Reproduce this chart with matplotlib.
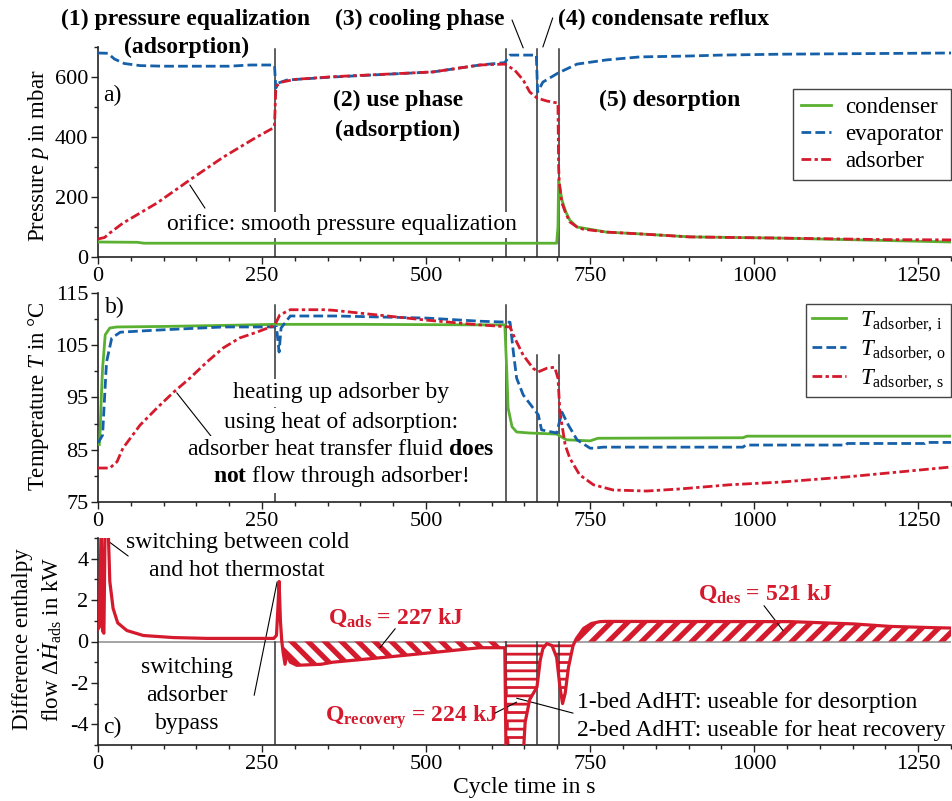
import matplotlib
matplotlib.use("Agg")
import numpy as np
import matplotlib.pyplot as plt
from matplotlib.ticker import MultipleLocator

plt.rcParams['font.family'] = ['Liberation Serif', 'DejaVu Serif']
plt.rcParams['font.size'] = 16
plt.rcParams['axes.unicode_minus'] = False
plt.rcParams['mathtext.fontset'] = 'custom'
plt.rcParams['mathtext.rm'] = 'Liberation Serif'
plt.rcParams['mathtext.it'] = 'Liberation Serif:italic'
plt.rcParams['mathtext.bf'] = 'Liberation Serif:bold'
plt.rcParams['mathtext.sf'] = 'Liberation Serif'

# ---------------- data ----------------
# (a) pressures in mbar
t_cond = [0, 60, 70, 699, 701, 702, 707, 713, 719, 730, 775, 826, 902, 1039, 1200, 1300]
p_cond = [50, 49, 46, 46, 100, 257, 190, 150, 123, 100, 83, 77, 67, 63, 55, 50]

t_evap = [0, 15, 25, 40, 64, 100, 200, 232, 267, 269, 271, 275, 288, 358, 511, 582,
          620, 628, 668, 670, 678, 701, 730, 775, 826, 902, 948, 1039, 1300]
p_evap = [680, 679, 660, 645, 638, 636, 636, 640, 640, 638, 563, 580, 590, 600, 617, 640,
          648, 673, 673, 550, 583, 613, 643, 657, 667, 670, 673, 676, 680]

t_adsp = [0, 10, 18, 38, 90, 140, 191, 242, 267, 269, 271, 273, 280, 300, 358, 511, 582,
          620, 635, 648, 658, 669, 684, 701, 702, 703, 707, 713, 719, 730, 739, 775, 826,
          902, 1039, 1200, 1300]
p_adsp = [60, 65, 80, 113, 180, 257, 333, 400, 430, 440, 560, 572, 583, 592, 601, 617, 640,
          643, 623, 590, 550, 530, 520, 513, 300, 247, 180, 145, 117, 100, 93, 83, 77,
          67, 63, 58, 57]

# (b) temperatures in degC
t_Ti = [2, 3, 5, 7, 11, 18, 29, 100, 191, 270, 400, 582, 620, 623, 625, 631, 638, 658,
        699, 714, 750, 762, 983, 989, 1300]
T_i = [86, 87.8, 95, 100.6, 107, 108.3, 108.5, 108.6, 108.8, 109, 109, 108.9, 108.9, 100,
       93, 89.4, 88.4, 88.2, 88, 86.9, 86.7, 87.2, 87.3, 87.6, 87.6]

t_To = [0, 7, 10, 13, 21, 34, 90, 191, 265, 272, 276, 279, 293, 364, 501, 582, 628, 633,
        638, 648, 663, 671, 676, 699, 707, 717, 730, 750, 755, 770, 983, 987, 1140, 1142,
        1260, 1262, 1300]
T_o = [86.3, 87.8, 95, 101.8, 106.4, 107.5, 107.9, 108.5, 108.5, 108.5, 103.7, 108.3,
       110.6, 110.6, 110.2, 109.6, 109.4, 103.7, 98.7, 95.5, 93, 91.7, 88.8, 88.2, 92.2,
       89.7, 86.9, 85.3, 85.3, 85.5, 85.5, 85.9, 85.9, 86.2, 86.2, 86.4, 86.4]

t_Ts = [0, 18, 29, 38, 64, 90, 115, 140, 166, 191, 216, 242, 267, 272, 277, 293, 344, 358,
        501, 582, 628, 635, 648, 663, 671, 684, 696, 701, 704, 712, 719, 734, 755, 785,
        836, 887, 963, 1039, 1141, 1242, 1300]
T_s = [81.5, 81.5, 82.7, 85.3, 89.7, 93, 96, 98.7, 101.8, 104.5, 106.4, 107.5, 108.7,
       109.5, 110.8, 111.8, 111.8, 111.7, 109.8, 108.9, 108.5, 106.4, 103.1, 100.6, 99.9,
       100.6, 100.8, 98.7, 92.2, 85.9, 83.4, 80.2, 78.3, 77.3, 77.1, 77.5, 78.3, 78.8,
       79.8, 81, 81.7]

# (c) difference enthalpy flow in kW
t_dH = [0, 2, 5, 7, 9, 11, 15, 18, 23, 30, 44, 69, 115, 166, 200, 268, 272, 274, 276,
        278, 280, 282, 285, 288, 293, 303, 340, 358, 435, 511, 582, 620, 622, 628, 645,
        649, 651, 658, 669, 674, 678, 684, 692, 699, 704, 708, 712, 717, 724, 729, 740,
        752, 765, 773, 1055, 1151, 1207, 1272, 1300]
dH = [0.6, 0.7, 6, 0.5, 0.4, 6, 6, 2.9, 1.6, 0.9, 0.53, 0.29, 0.19, 0.15, 0.15, 0.15,
      0.3, 1.5, 2.9, 1.0, 0.05, -0.5, -1.1, -0.6, -1.0, -1.15, -1.1, -1.0, -0.77, -0.53,
      -0.3, -0.3, -6, -6, -6, -5, -3.9, -2.8, -2.2, -0.9, -0.35, -0.1, -0.2, -0.77, -2.2,
      -3.0, -2.5, -1.25, -0.2, 0.14, 0.63, 0.87, 0.96, 0.97, 0.96, 0.85, 0.73, 0.67, 0.65]

phase_bounds = [270, 622, 669, 702]
x_ticks = [0, 250, 500, 750, 1000, 1250]

GREEN = '#5ab031'
BLUE = '#1660a9'
RED = '#d41a2c'
VLINE = '#333333'

# ---------------- figure ----------------
W, H = 953, 801
fig = plt.figure(figsize=(W / 100, H / 100), dpi=100)
left, width = 98 / W, 853 / W
ax_a = fig.add_axes([left, 1 - 257 / H, width, 210 / H])
ax_b = fig.add_axes([left, 1 - 502 / H, width, 209 / H])
ax_c = fig.add_axes([left, 1 - 745 / H, width, 207 / H])

for ax in (ax_a, ax_b, ax_c):
    for s in ('top', 'right'):
        ax.spines[s].set_visible(False)
    for s in ('left', 'bottom'):
        ax.spines[s].set_linewidth(1.2)
        ax.spines[s].set_color('#222222')
    ax.set_xlim(0, 1300)
    ax.set_xticks(x_ticks)
    ax.xaxis.set_minor_locator(MultipleLocator(50))
    ax.tick_params(which='major', direction='out', length=5, width=1, pad=2,
                   labelsize=16, color='#222222')
    ax.tick_params(which='minor', direction='out', length=3, width=1, color='#222222')

dash_b = (0, (3.5, 1.5))
dash_r = (0, (3.5, 1.2, 1.2, 1.2))
lw = 2.0


def place_ylabel(ax, text, ycen, **kw):
    ax.set_ylabel(text, fontsize=16.5, **kw)
    ax.yaxis.label.set_horizontalalignment('center')
    ax.yaxis.label.set_verticalalignment('center')
    ax.yaxis.set_label_coords(-0.070, ycen)


# ---- (a) pressure ----
ax_a.plot(t_cond, p_cond, color=GREEN, lw=lw, label='condenser', zorder=3)
ax_a.plot(t_evap, p_evap, color=BLUE, lw=lw, ls=dash_b, label='evaporator', zorder=4)
ax_a.plot(t_adsp, p_adsp, color=RED, lw=lw, ls=dash_r, label='adsorber', zorder=5)
ax_a.set_ylim(0, 700)
ax_a.yaxis.set_major_locator(MultipleLocator(200))
ax_a.yaxis.set_minor_locator(MultipleLocator(100))
for tb in phase_bounds:
    ax_a.axvline(tb, ymin=0, ymax=0.99, color=VLINE, lw=1.1, zorder=2)
place_ylabel(ax_a, r'Pressure $p$ in mbar', 0.48)
ax_a.legend(loc='upper right', bbox_to_anchor=(1.0, 0.80), fontsize=16.5, frameon=True,
            fancybox=False, edgecolor='#444444', framealpha=1, borderaxespad=0,
            handlelength=1.3, handletextpad=0.6, labelspacing=0.25, borderpad=0.35)

ax_a.text(8, 540, 'a)', fontsize=17, ha='left', va='center')
ax_a.text(134, 793, '(1) pressure equalization', fontsize=17, fontweight='bold',
          ha='center', va='center')
ax_a.text(135, 697, '(adsorption)', fontsize=17, fontweight='bold', ha='center', va='center')
ax_a.text(491, 793, '(3) cooling phase', fontsize=17, fontweight='bold', ha='center', va='center')
ax_a.text(862, 793, '(4) condensate reflux', fontsize=17, fontweight='bold',
          ha='center', va='center')
ax_a.text(457, 523, '(2) use phase', fontsize=17, fontweight='bold', ha='center', va='center')
ax_a.text(457, 423, '(adsorption)', fontsize=17, fontweight='bold', ha='center', va='center')
ax_a.text(872, 523, '(5) desorption', fontsize=17, fontweight='bold', ha='center', va='center')
ax_a.text(372, 107, 'orifice: smooth pressure equalization', fontsize=17, ha='center',
          va='center', zorder=6,
          bbox=dict(facecolor='white', edgecolor='none', pad=1.5))
leader = dict(arrowstyle='-', color='black', lw=0.8, shrinkA=0, shrinkB=0)
ax_a.annotate('', xy=(140, 240), xytext=(163, 163), arrowprops=leader, annotation_clip=False)
ax_a.annotate('', xy=(648, 697), xytext=(631, 790), arrowprops=leader, annotation_clip=False)
ax_a.annotate('', xy=(678, 700), xytext=(693, 797), arrowprops=leader, annotation_clip=False)

# ---- (b) temperature ----
ax_b.plot(t_Ti, T_i, color=GREEN, lw=lw, label=r'$T_{\mathrm{adsorber,\,i}}$', zorder=3)
ax_b.plot(t_To, T_o, color=BLUE, lw=lw, ls=dash_b, label=r'$T_{\mathrm{adsorber,\,o}}$', zorder=4)
ax_b.plot(t_Ts, T_s, color=RED, lw=lw, ls=dash_r, label=r'$T_{\mathrm{adsorber,\,s}}$', zorder=5)
ax_b.set_ylim(75, 115)
ax_b.set_yticks([75, 85, 95, 105, 115])
ax_b.yaxis.set_minor_locator(MultipleLocator(5))
for tb in phase_bounds:
    top = 0.943 if tb in (270, 622) else 0.703
    ax_b.axvline(tb, ymin=0, ymax=top, color=VLINE, lw=1.1, zorder=2)
place_ylabel(ax_b, r'Temperature $T$ in °C', 0.507)
ax_b.legend(loc='upper right', bbox_to_anchor=(1.0, 0.947), fontsize=16.5, frameon=True,
            fancybox=False, edgecolor='#444444', framealpha=1, borderaxespad=0,
            handlelength=1.5, handletextpad=0.6, labelspacing=0.2, borderpad=0.25)
ax_b.text(10.7, 112.3, 'b)', fontsize=17, ha='left', va='center')
heat_lines = ['heating up adsorber by',
              'using heat of adsorption:',
              r'adsorber heat transfer fluid $\mathbf{does}$',
              r'$\mathbf{not}$ flow through adsorber!']
heat_y = [95.9, 90.3, 85.0, 79.8]
for s, yv in zip(heat_lines, heat_y):
    ax_b.text(370, yv, s, fontsize=17, ha='center', va='center', zorder=6,
              bbox=dict(facecolor='white', edgecolor='none', pad=2.5))
ax_b.annotate('', xy=(120, 95.9), xytext=(183, 85.9), arrowprops=leader, annotation_clip=False)

# ---- (c) enthalpy flow ----
t_arr = np.array(t_dH, dtype=float)
h_arr = np.array(dH, dtype=float)
ax_c.axhline(0, color='#8c8c8c', lw=1.1, zorder=1)
hatch_regions = [
    ((t_arr >= 280) & (t_arr <= 622), '\\\\', 3.8),
    ((t_arr >= 622) & (t_arr <= 729), '--', 2.0),
    ((t_arr >= 724), '//', 3.8),
]
for mask, hatch, hlw in hatch_regions:
    plt.rcParams['hatch.linewidth'] = hlw
    coll = ax_c.fill_between(t_arr, h_arr, 0, where=mask, interpolate=True,
                             facecolor='none', edgecolor=RED, linewidth=0,
                             hatch=hatch, zorder=2)
    if hasattr(coll, 'set_hatch_linewidth'):
        coll.set_hatch_linewidth(hlw)
ax_c.plot(t_arr, h_arr, color=RED, lw=2.3, zorder=4)
ax_c.set_ylim(-5, 5)
ax_c.set_yticks([-4, -2, 0, 2, 4])
ax_c.yaxis.set_minor_locator(MultipleLocator(1))
for tb in phase_bounds:
    ax_c.axvline(tb, ymin=0, ymax=0.5, color=VLINE, lw=1.1, zorder=3)
place_ylabel(ax_c, 'Difference enthalpy\n' + r'flow $\Delta\dot{H}_{\mathrm{ads}}$ in kW',
             0.512, linespacing=1.15)
fig.text(524 / W, 1 - 787 / H, 'Cycle time in s', fontsize=17, ha='center', va='center')

ax_c.text(7.6, -4.13, 'c)', fontsize=17, ha='left', va='center')
ax_c.text(212, 4.76, 'switching between cold', fontsize=17, ha='center', va='center')
ax_c.text(212, 3.41, 'and hot thermostat', fontsize=17, ha='center', va='center')
for s, yv in zip(['switching', 'adsorber', 'bypass'], [-1.25, -2.6, -3.94]):
    ax_c.text(136, yv, s, fontsize=17, ha='center', va='center')
ax_c.text(350, 1.15, r'Q$_{\mathbf{ads}}$ = 227 kJ', fontsize=17, fontweight='bold',
          color=RED, ha='left', va='center')
ax_c.text(346, -3.65, r'Q$_{\mathbf{recovery}}$ = 224 kJ', fontsize=17, fontweight='bold',
          color=RED, ha='left', va='center')
ax_c.text(914, 2.31, r'Q$_{\mathbf{des}}$ = 521 kJ', fontsize=17, fontweight='bold',
          color=RED, ha='left', va='center')
ax_c.text(730, -2.93, '1-bed AdHT: useable for desorption', fontsize=17, ha='left', va='center')
ax_c.text(730, -4.28, '2-bed AdHT: useable for heat recovery', fontsize=17, ha='left', va='center')

ax_c.annotate('', xy=(15, 4.86), xytext=(46, 4.13), arrowprops=leader, annotation_clip=False)
ax_c.annotate('', xy=(273, 2.88), xytext=(238, -2.6), arrowprops=leader, annotation_clip=False)
ax_c.annotate('', xy=(430, -0.29), xytext=(453, 0.62), arrowprops=leader, annotation_clip=False)
ax_c.annotate('', xy=(638, -2.93), xytext=(605, -3.46), arrowprops=leader, annotation_clip=False)
ax_c.annotate('', xy=(638, -2.74), xytext=(724, -3.46), arrowprops=leader, annotation_clip=False)
ax_c.annotate('', xy=(1044, 0.53), xytext=(1015, 1.73), arrowprops=leader, annotation_clip=False)

fig.savefig('out.png', dpi=100)
